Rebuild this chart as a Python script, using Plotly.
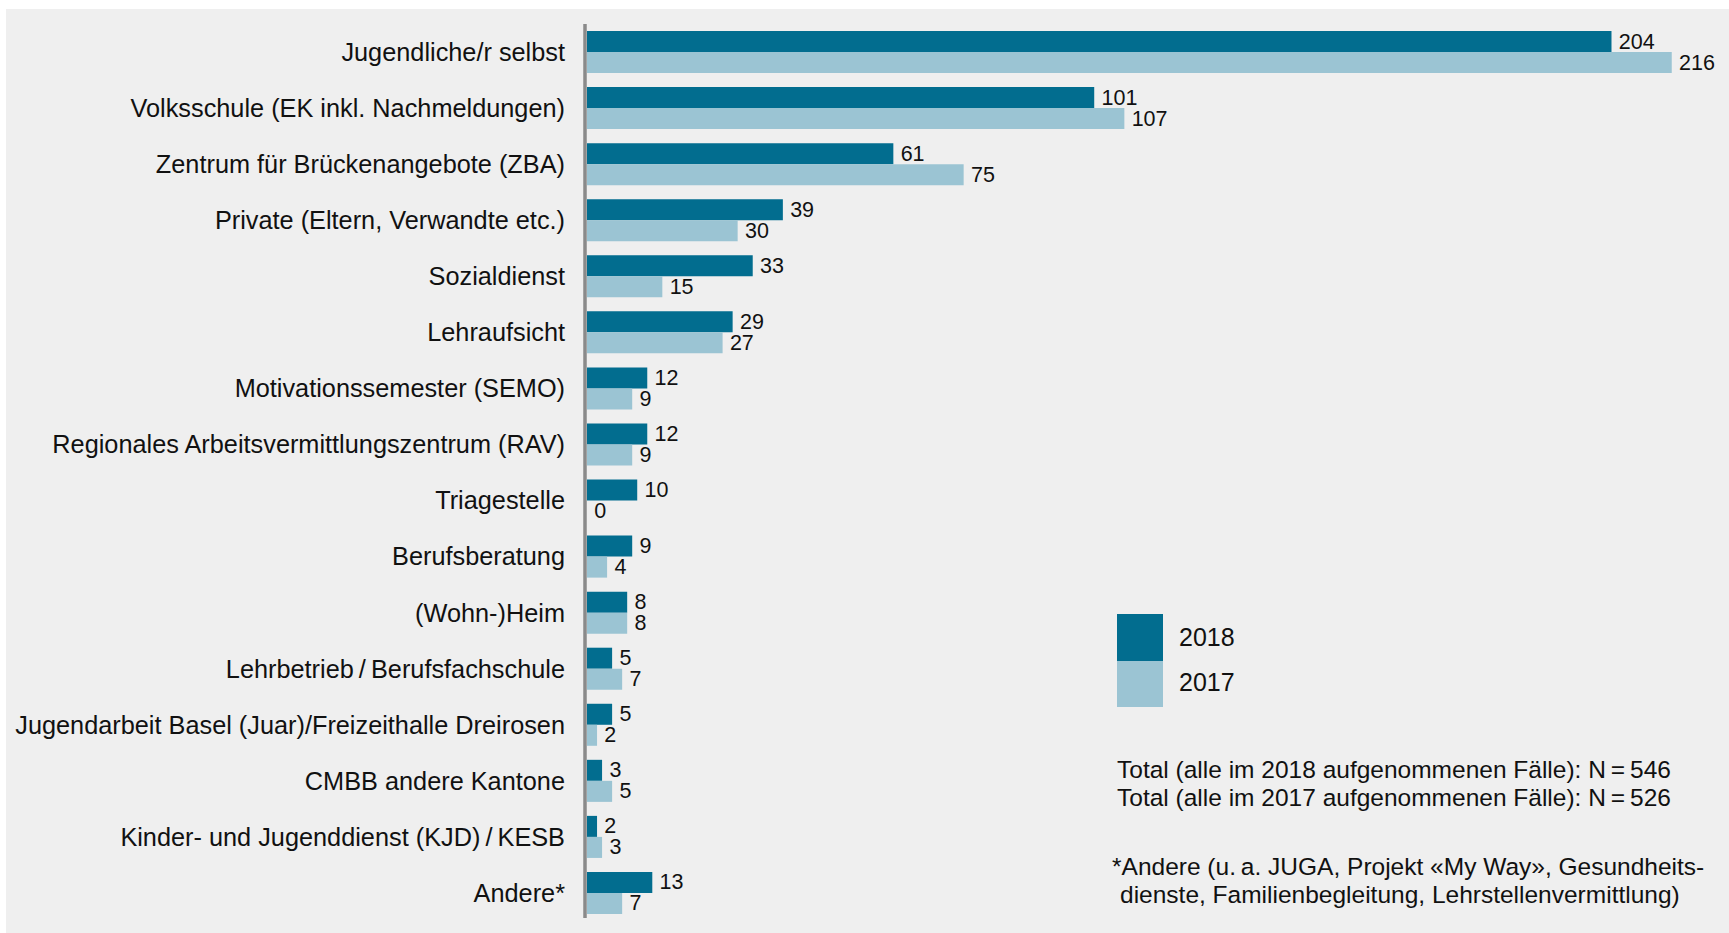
import plotly.graph_objects as go

categories = [
    "Jugendliche/r selbst",
    "Volksschule (EK inkl. Nachmeldungen)",
    "Zentrum für Brückenangebote (ZBA)",
    "Private (Eltern, Verwandte etc.)",
    "Sozialdienst",
    "Lehraufsicht",
    "Motivationssemester (SEMO)",
    "Regionales Arbeitsvermittlungszentrum (RAV)",
    "Triagestelle",
    "Berufsberatung",
    "(Wohn-)Heim",
    "Lehrbetrieb\u2009/\u2009Berufsfachschule",
    "Jugendarbeit Basel (Juar)/Freizeithalle Dreirosen",
    "CMBB andere Kantone",
    "Kinder- und Jugenddienst (KJD)\u2009/\u2009KESB",
    "Andere*",
]
values_2018 = [204, 101, 61, 39, 33, 29, 12, 12, 10, 9, 8, 5, 5, 3, 2, 13]
values_2017 = [216, 107, 75, 30, 15, 27, 9, 9, 0, 4, 8, 7, 2, 5, 3, 7]
series_names = ["2018", "2017"]
colors = ["#026d8f", "#9bc4d3"]

W, H = 1729, 933
FONT = "Liberation Sans, Arial, Helvetica, sans-serif"

fig = go.Figure()
for name, vals, col in zip(series_names, [values_2018, values_2017], colors):
    fig.add_trace(go.Bar(
        name=name, y=categories, x=vals, orientation="h",
        marker=dict(color=col, line=dict(width=0)),
        text=["\u2009" + str(v) for v in vals], textposition="outside",
        constraintext="none",
        textfont=dict(size=21.5, color="#111111", family=FONT),
        cliponaxis=False, showlegend=False,
    ))

left, right, top, bottom = 587, 36, 24, 12
pw = W - left - right
ph = H - top - bottom

def px(x):
    return (x - left) / pw

def py(y):
    return 1 - (y - top) / ph

shapes = [
    # gray panel
    dict(type="rect", xref="paper", yref="paper", x0=px(6), x1=px(W + 5), y0=py(H + 5), y1=py(9),
         fillcolor="#efefef", line=dict(width=0), layer="below"),
    # axis line
    dict(type="line", xref="paper", yref="paper", x0=px(585), x1=px(585), y0=py(918), y1=py(24),
         line=dict(color="#8a8a8a", width=3.5)),
    # legend swatches
    dict(type="rect", xref="paper", yref="paper", x0=px(1117), x1=px(1163), y0=py(661), y1=py(614),
         fillcolor=colors[0], line=dict(width=0)),
    dict(type="rect", xref="paper", yref="paper", x0=px(1117), x1=px(1163), y0=py(707), y1=py(661),
         fillcolor=colors[1], line=dict(width=0)),
]

def ann(x, y, text, size=24.5):
    return dict(xref="paper", yref="paper", x=px(x), y=py(y), text=text, showarrow=False,
                xanchor="left", yanchor="middle", align="left",
                font=dict(size=size, color="#111111", family=FONT))

annotations = [
    ann(1177, 637, series_names[0], 25),
    ann(1177, 682, series_names[1], 25),
    ann(1115, 769, "Total (alle im 2018 aufgenommenen Fälle): N\u2009=\u2009546"),
    ann(1115, 797, "Total (alle im 2017 aufgenommenen Fälle): N\u2009=\u2009526"),
    ann(1110, 866, "*Andere (u.\u2009a. JUGA, Projekt «My Way», Gesundheits-"),
    ann(1118, 894, "dienste, Familienbegleitung, Lehrstellenvermittlung)"),
]

fig.update_layout(
    width=W, height=H,
    margin=dict(l=left, r=right, t=top, b=bottom, pad=0),
    paper_bgcolor="white", plot_bgcolor="rgba(0,0,0,0)",
    barmode="group", bargap=0.25, bargroupgap=0,
    font=dict(family=FONT, size=25, color="#111111"),
    shapes=shapes, annotations=annotations,
    xaxis=dict(range=[0, pw / 5.022], visible=False, showgrid=False, zeroline=False, fixedrange=True),
    yaxis=dict(autorange="reversed", showgrid=False, zeroline=False, showline=False,
               ticks="", ticklabelstandoff=21, tickfont=dict(size=25.3, family=FONT, color="#111111"),
               fixedrange=True),
)

fig.write_html(
    "out.html",
    config={"displayModeBar": False},
    post_script="document.body.style.margin='0';document.body.style.overflow='hidden';",
)
